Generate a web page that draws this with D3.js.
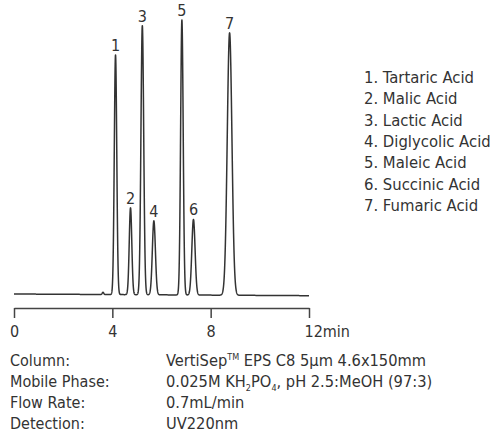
<!DOCTYPE html>
<html>
<head>
<meta charset="utf-8">
<script src="https://cdn.jsdelivr.net/npm/d3@7/dist/d3.min.js"></script>
<style>
  html, body { margin: 0; padding: 0; background: #fff; }
  svg { display: block; }
  text { font-family: "DejaVu Sans Condensed", "DejaVu Sans", sans-serif; fill: #333; }
</style>
</head>
<body>
<svg id="chart" width="497" height="434"></svg>
<script>
// ---- data ----
const peakLabels   = ["1", "2", "3", "4", "5", "6", "7"];
const peakNames    = ["Tartaric Acid", "Malic Acid", "Lactic Acid", "Diglycolic Acid", "Maleic Acid", "Succinic Acid", "Fumaric Acid"];
const peakTimes    = [4.13, 4.74, 5.22, 5.69, 6.83, 7.30, 8.77];   // min
const peakHeights  = [85.6, 31.0, 96.1, 26.4, 98.2, 27.0, 93.7];  // relative response
const peakSigmas   = [0.05, 0.052, 0.056, 0.062, 0.052, 0.066, 0.095]; // min
const blipTimes    = [3.62];
const blipHeights  = [0.8];
const blipSigmas   = [0.03];
const xTicks       = [0, 4, 8, 12];
const tickLabels   = ["0", "4", "8", "12min"];
const condLabels   = ["Column:", "Mobile Phase:", "Flow Rate:", "Detection:"];
const timeRange    = [0, 12];

const svg = d3.select("#chart");
const x = d3.scaleLinear().domain([0, 12]).range([14, 309]);
const y = d3.scaleLinear().domain([0, 100]).range([294, 14]);

// build trace from peak parameters
const allT = [...peakTimes, ...blipTimes];
const samples = d3.range(timeRange[0], timeRange[1] + 1e-9, 0.004).concat(allT).sort((a, b) => a - b);
const peaks = peakTimes.map((t, i) => ({t, h: peakHeights[i], s: peakSigmas[i]}))
  .concat(blipTimes.map((t, i) => ({t, h: blipHeights[i], s: blipSigmas[i]})));
const trace = samples.map(t => {
  let v = -0.6 * (t / 12); // slight baseline drift
  for (const p of peaks) v += p.h * Math.exp(-0.5 * ((t - p.t) / p.s) ** 2);
  return [t, v];
});

svg.append("path")
  .datum(trace)
  .attr("fill", "none")
  .attr("stroke", "#333")
  .attr("stroke-width", 1.5)
  .attr("stroke-linejoin", "round")
  .attr("d", d3.line().x(d => x(d[0])).y(d => y(d[1])));

// peak labels
svg.append("g").selectAll("text")
  .data(peakLabels)
  .join("text")
  .attr("x", (d, i) => x(peakTimes[i]))
  .attr("y", (d, i) => y(peakHeights[i]) - 3)
  .attr("text-anchor", "middle")
  .attr("font-size", 16)
  .text(d => d);

// axis
const axis = d3.axisBottom(x)
  .tickValues(xTicks)
  .tickSize(10)
  .tickSizeOuter(0)
  .tickPadding(8)
  .tickFormat((d, i) => tickLabels[i]);
const gAxis = svg.append("g").attr("transform", "translate(0,308)").call(axis);
gAxis.select(".domain").attr("stroke", "#444").attr("stroke-width", 1.5);
gAxis.selectAll(".tick line").attr("stroke", "#444").attr("stroke-width", 1.5);
gAxis.selectAll(".tick text")
  .attr("font-size", 16)
  .attr("font-family", null)
  .attr("fill", "#333")
  .filter((d, i) => i === xTicks.length - 1)
  .attr("text-anchor", "start")
  .attr("dx", -5);

// legend
svg.append("g").selectAll("text")
  .data(peakNames)
  .join("text")
  .attr("x", 364)
  .attr("y", (d, i) => 83 + i * 21.3)
  .attr("font-size", 16.5)
  .text((d, i) => peakLabels[i] + ". " + d);

// conditions
const gc = svg.append("g");
gc.selectAll("text.lbl")
  .data(condLabels)
  .join("text")
  .attr("class", "lbl")
  .attr("x", 10)
  .attr("y", (d, i) => 366 + i * 21)
  .attr("font-size", 16)
  .text(d => d);

const vx = 166;
gc.append("text").attr("x", vx).attr("y", 366).attr("font-size", 16.3)
  .call(t => {
    t.append("tspan").text("VertiSep");
    t.append("tspan").attr("font-size", 9).attr("dy", -6).text("TM");
    t.append("tspan").attr("dy", 6).text(" EPS C8 5µm 4.6x150mm");
  });
gc.append("text").attr("x", vx).attr("y", 387).attr("font-size", 16.3)
  .call(t => {
    t.append("tspan").text("0.025M KH");
    t.append("tspan").attr("font-size", 9).attr("dy", 4).text("2");
    t.append("tspan").attr("dy", -4).text("PO");
    t.append("tspan").attr("font-size", 9).attr("dy", 4).text("4");
    t.append("tspan").attr("dy", -4).text(", pH 2.5:MeOH (97:3)");
  });
gc.append("text").attr("x", vx).attr("y", 408).attr("font-size", 16.3).text("0.7mL/min");
gc.append("text").attr("x", vx).attr("y", 429).attr("font-size", 16.3).text("UV220nm");
</script>
</body>
</html>
